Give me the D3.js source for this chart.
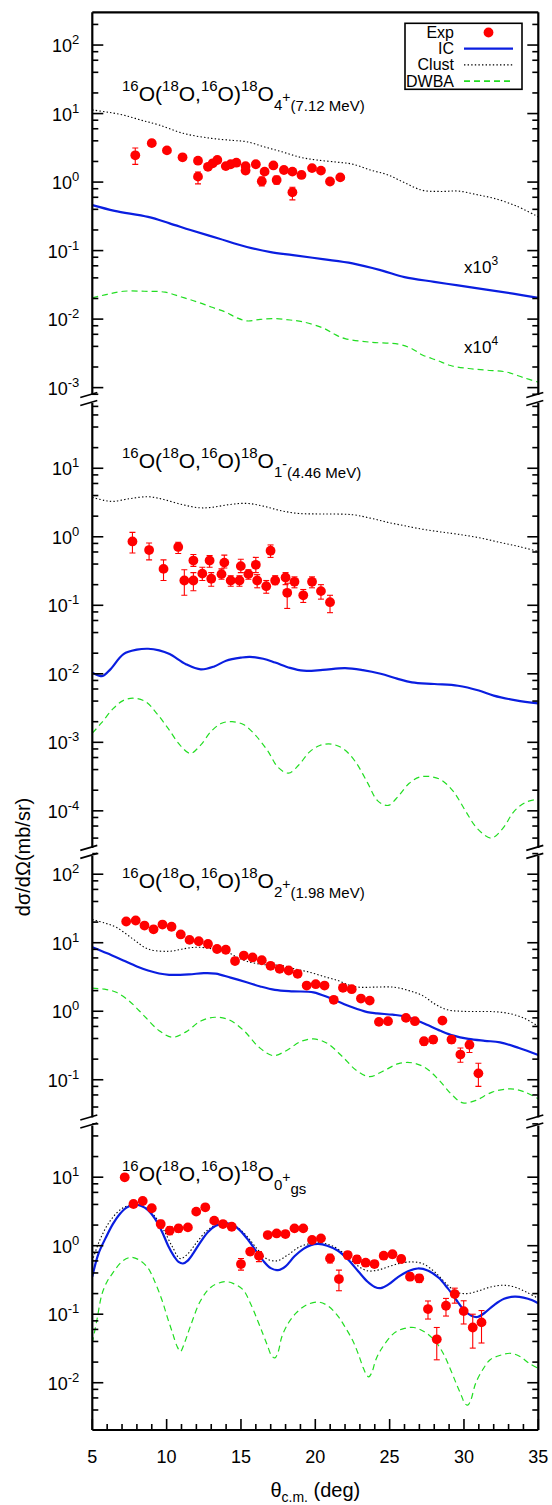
<!DOCTYPE html>
<html>
<head>
<meta charset="utf-8">
<script src="https://cdn.jsdelivr.net/npm/d3@7"></script>
<style>
  body { margin: 0; background: #fff; }
  svg text { font-family: "Liberation Sans", Arial, Helvetica, sans-serif; fill: #000; }
</style>
</head>
<body>
<div id="chart"></div>
<script>
// ---------- data (theta in deg, cross sections in mb/sr, already scaled as plotted) ----------

// 18O 4+ (7.12 MeV): [theta, value, errLow, errHigh]
const exp4 = [
  [7.89, 2.46, 1.81, 3.14], [9.0, 3.7, 3.3, 4.1], [10.02, 2.9, 2.65, 3.15], [11.07, 2.3, 2.1, 2.5],
  [12.11, 2.05, 1.87, 2.25], [12.11, 1.2, 0.94, 1.4], [12.78, 1.67, 1.52, 1.83], [13.1, 1.88, 1.72, 2.05],
  [13.41, 2.1, 1.92, 2.3], [13.98, 1.71, 1.56, 1.87], [14.31, 1.82, 1.66, 1.99], [14.69, 1.92, 1.75, 2.1],
  [15.31, 1.71, 1.56, 1.87], [15.31, 1.47, 1.33, 1.62], [16.0, 1.82, 1.66, 1.99], [16.4, 1.03, 0.88, 1.18],
  [16.59, 1.42, 1.29, 1.56], [17.18, 1.75, 1.6, 1.92], [17.4, 1.07, 0.93, 1.22], [17.89, 1.5, 1.37, 1.64],
  [18.46, 1.42, 1.29, 1.56], [18.46, 0.71, 0.55, 0.84], [19.07, 1.27, 1.16, 1.39], [19.78, 1.6, 1.46, 1.75],
  [20.38, 1.47, 1.34, 1.61], [20.99, 1.02, 0.93, 1.12], [21.68, 1.17, 1.07, 1.28]
];
const ic4 = [[5, 0.46], [6.5, 0.38], [8.75, 0.31], [10.2, 0.25], [11.6, 0.2], [13.5, 0.15], [15.4, 0.113],
  [17, 0.095], [18.5, 0.086], [20.5, 0.075], [22.5, 0.065], [24.5, 0.051], [26, 0.041], [28, 0.035],
  [29.6, 0.031], [31.5, 0.027], [33.3, 0.0235], [35, 0.0204]];
const clust4 = [[5, 11.3], [6, 10.5], [7.1, 9.5], [8.3, 8], [9.5, 6.8], [11.1, 5.15], [13, 4.35], [14.5, 4.05],
  [15.4, 3.88], [16.5, 3.3], [17.75, 2.77], [19, 2.3], [20.1, 2.1], [21.5, 1.95], [22.5, 1.83], [23.7, 1.5],
  [24.9, 1.27], [26, 0.98], [27.2, 0.76], [28.5, 0.73], [29.6, 0.74], [30.8, 0.66], [32, 0.58], [33.5, 0.45], [35, 0.31]];
const dwba4 = [[5, 0.0204], [6, 0.023], [7.1, 0.0255], [8.5, 0.0255], [9.9, 0.0247], [11, 0.021], [12.06, 0.0178],
  [13, 0.015], [13.96, 0.0127], [14.7, 0.0105], [15.4, 0.0094], [16.3, 0.0099], [17.3, 0.0102], [18.3, 0.0097],
  [19.2, 0.0091], [20.6, 0.0073], [21.3, 0.006], [22, 0.0052], [23.7, 0.0046], [25.6, 0.0043], [26.5, 0.0037],
  [27.2, 0.003], [28.2, 0.0025], [29.1, 0.0021], [30.3, 0.0019], [31.5, 0.0018], [32.8, 0.0017], [34, 0.0014], [35, 0.0012]];

// 18O 1- (4.46 MeV)
const exp1 = [
  [7.70, 0.855, 0.58, 1.16], [8.82, 0.64, 0.46, 0.81], [9.79, 0.34, 0.23, 0.46], [10.78, 0.71, 0.57, 0.83],
  [11.19, 0.23, 0.14, 0.33], [11.8, 0.45, 0.37, 0.55], [11.8, 0.23, 0.163, 0.30], [12.4, 0.29, 0.23, 0.36],
  [12.89, 0.45, 0.36, 0.53], [13.0, 0.244, 0.19, 0.30], [13.69, 0.285, 0.24, 0.34], [13.88, 0.42, 0.35, 0.54],
  [14.31, 0.23, 0.19, 0.27], [14.9, 0.23, 0.19, 0.27], [14.99, 0.373, 0.30, 0.47], [15.5, 0.285, 0.24, 0.33],
  [16.0, 0.39, 0.30, 0.50], [16.09, 0.23, 0.18, 0.28], [16.7, 0.19, 0.15, 0.23], [16.99, 0.625, 0.50, 0.76],
  [17.3, 0.23, 0.20, 0.27], [18.0, 0.255, 0.20, 0.30], [18.11, 0.152, 0.09, 0.21], [18.6, 0.22, 0.18, 0.26],
  [19.19, 0.14, 0.11, 0.17], [19.78, 0.22, 0.18, 0.26], [20.38, 0.161, 0.123, 0.2], [20.99, 0.111, 0.078, 0.14]
];
const ic1 = [[5, 0.0104], [5.4, 0.0095], [5.7, 0.0093], [6.2, 0.0115], [7.1, 0.0194], [8, 0.0225], [8.75, 0.0232],
  [9.5, 0.022], [10.2, 0.0194], [11.3, 0.0138], [12.3, 0.0116], [13.2, 0.0128], [14.0, 0.0155], [15.0, 0.0172],
  [15.6, 0.0177], [16.5, 0.0166], [17.3, 0.0146], [18.3, 0.0122], [19.2, 0.0111], [20.5, 0.0114], [22, 0.0121],
  [23.2, 0.0113], [24.4, 0.0100], [25.5, 0.0085], [26.5, 0.0075], [28, 0.0071], [29.6, 0.0067], [31, 0.0057],
  [32, 0.0048], [33.5, 0.0041], [35, 0.0037]];
const clust1 = [[5, 3.75], [5.8, 3.4], [6.4, 3.28], [7.5, 3.6], [8.75, 3.84], [9.8, 3.5], [11.1, 2.93], [12.2, 2.65],
  [13.0, 2.68], [14.2, 2.95], [15.4, 3.07], [16.5, 2.8], [17.7, 2.4], [18.9, 2.19], [20.5, 2.15], [22.5, 2.1],
  [23.8, 1.85], [24.9, 1.62], [26, 1.45], [27.2, 1.29], [28.4, 1.18], [29.6, 1.09], [31, 0.97], [32.4, 0.83],
  [33.7, 0.72], [35, 0.61]];
const dwba1 = [[5, 0.00136], [5.6, 0.0019], [6.4, 0.0031], [7.1, 0.0041], [7.8, 0.0044], [8.6, 0.0039], [9.3, 0.0027],
  [10.1, 0.0016], [10.9, 0.00091], [11.6, 0.00069], [12.3, 0.00092], [13.0, 0.00145], [13.7, 0.0019], [14.4, 0.0020],
  [15.2, 0.0018], [16.0, 0.00125], [16.8, 0.00075], [17.5, 0.00043], [18.2, 0.000355], [18.9, 0.00047],
  [19.6, 0.00072], [20.3, 0.00090], [21.1, 0.00094], [21.9, 0.00080], [22.7, 0.00052], [23.5, 0.00026],
  [24.2, 0.00014], [24.9, 0.00012], [25.6, 0.000165], [26.3, 0.00025], [27.0, 0.00031], [27.74, 0.000316],
  [28.5, 0.00028], [29.3, 0.00019], [30.1, 0.0001], [30.9, 0.000055], [31.84, 0.00004], [32.6, 0.000055],
  [33.4, 0.0001], [34.2, 0.000135], [35, 0.000148]];

// 18O 2+ (1.98 MeV)
const exp2 = [
  [7.28, 20.4, 19.2, 21.6], [7.92, 21.1, 19.9, 22.3], [8.51, 17.8, 16.8, 18.8], [9.12, 15.7, 14.8, 16.6],
  [9.72, 18.4, 17.3, 19.5], [10.33, 17.1, 16.1, 18.1], [10.95, 13.2, 12.4, 14.0], [11.54, 11.0, 10.3, 11.7],
  [12.16, 10.5, 9.9, 11.1], [12.78, 9.6, 9.0, 10.2], [13.39, 8.1, 7.6, 8.6], [13.98, 7.9, 7.4, 8.4],
  [14.6, 5.4, 5.0, 5.8], [15.19, 6.5, 6.1, 6.9], [15.78, 6.1, 5.7, 6.5], [16.4, 5.55, 5.2, 5.9],
  [16.99, 4.6, 4.3, 4.9], [17.6, 4.16, 3.9, 4.4], [18.21, 3.93, 3.7, 4.16], [18.81, 3.52, 3.3, 3.74],
  [19.42, 2.37, 2.2, 2.54], [20.03, 2.48, 2.32, 2.64], [20.62, 2.37, 2.2, 2.54], [21.24, 1.47, 1.36, 1.58],
  [21.86, 2.2, 2.05, 2.35], [22.45, 2.1, 1.96, 2.24], [23.07, 1.53, 1.42, 1.64], [23.66, 1.43, 1.33, 1.53],
  [24.28, 0.70, 0.63, 0.77], [24.89, 0.715, 0.65, 0.78], [26.1, 0.80, 0.73, 0.87], [26.7, 0.715, 0.65, 0.78],
  [27.31, 0.365, 0.32, 0.41], [27.93, 0.386, 0.34, 0.43], [28.55, 0.73, 0.67, 0.79], [29.16, 0.386, 0.34, 0.43],
  [29.76, 0.233, 0.18, 0.29], [30.37, 0.323, 0.25, 0.37], [30.97, 0.124, 0.08, 0.174]
];
const ic2 = [[5, 8.6], [6, 7.0], [7.09, 5.5], [8, 4.5], [8.75, 3.93], [9.5, 3.55], [10.17, 3.4], [11.5, 3.45],
  [12.5, 3.6], [13.3, 3.55], [14.3, 3.1], [15.38, 2.65], [16.3, 2.3], [17.28, 2.05], [18.5, 1.95], [19.88, 1.89],
  [21, 1.55], [22.49, 1.14], [23.5, 0.97], [24.15, 0.93], [25.2, 0.89], [26.04, 0.84], [27.2, 0.68], [28.41, 0.52],
  [29.3, 0.44], [30.3, 0.395], [31.4, 0.37], [32.43, 0.352], [33.7, 0.29], [35, 0.23]];
const clust2 = [[5, 21.8], [5.8, 19.5], [6.61, 16.8], [7.7, 11.5], [8.75, 8.1], [10.17, 7.5], [11.2, 8.2], [12.06, 8.6],
  [13, 8.2], [13.96, 7.5], [14.7, 6.2], [15.38, 5.37], [16.5, 4.8], [17.75, 4.65], [18.7, 4.1], [19.64, 3.7],
  [20.6, 3.2], [21.53, 2.8], [22.3, 2.4], [22.96, 2.24], [24, 2.25], [25.32, 2.24], [26.3, 2.0], [27.22, 1.69],
  [28.1, 1.25], [28.88, 1.05], [29.8, 1.0], [30.77, 0.99], [31.8, 0.99], [32.9, 0.94], [34, 0.8], [35, 0.6]];
const dwba2 = [[5, 2.17], [5.8, 2.1], [6.61, 1.89], [7.5, 1.4], [8.5, 0.85], [9.5, 0.52], [10.4, 0.417], [11.3, 0.5],
  [12.3, 0.72], [13.25, 0.817], [14.2, 0.75], [15.2, 0.52], [16.2, 0.3], [17.16, 0.225], [18.1, 0.27], [19.0, 0.36],
  [19.88, 0.395], [20.8, 0.34], [21.8, 0.22], [22.8, 0.135], [23.66, 0.111], [24.6, 0.135], [25.6, 0.172],
  [26.5, 0.177], [27.4, 0.15], [28.3, 0.1], [29.2, 0.06], [29.93, 0.046], [30.8, 0.05], [31.9, 0.066],
  [33.13, 0.0736], [34.1, 0.066], [35, 0.0526]];

// 18O 0+ gs
const exp0 = [
  [7.18, 9.96, 9.3, 10.6], [7.77, 4.06, 3.7, 4.45], [8.39, 4.49, 4.1, 4.9], [9.0, 3.52, 3.2, 3.9],
  [9.6, 2.07, 1.8, 2.35], [10.21, 1.66, 1.45, 1.9], [10.8, 1.79, 1.58, 2.0], [11.43, 1.85, 1.68, 2.04],
  [11.99, 3.14, 2.9, 3.4], [12.6, 3.63, 3.35, 3.93], [13.2, 2.32, 2.12, 2.52], [13.79, 2.07, 1.9, 2.25],
  [14.38, 1.89, 1.73, 2.06], [15.0, 0.54, 0.44, 0.65], [15.62, 0.82, 0.73, 0.91], [16.21, 0.71, 0.585, 0.82],
  [16.8, 1.43, 1.31, 1.56], [17.4, 1.51, 1.38, 1.65], [17.99, 1.48, 1.35, 1.62], [18.6, 1.79, 1.64, 1.95],
  [19.19, 1.79, 1.64, 1.95], [19.78, 1.21, 1.1, 1.33], [20.38, 1.28, 1.16, 1.4], [20.99, 0.65, 0.56, 0.75],
  [21.59, 0.326, 0.22, 0.44], [22.18, 0.73, 0.64, 0.82], [22.8, 0.63, 0.55, 0.72], [23.39, 0.565, 0.5, 0.63],
  [23.98, 0.54, 0.48, 0.6], [24.6, 0.715, 0.64, 0.79], [25.19, 0.75, 0.67, 0.83], [25.78, 0.64, 0.57, 0.71],
  [26.37, 0.353, 0.31, 0.4], [26.99, 0.334, 0.29, 0.38], [27.58, 0.119, 0.085, 0.156], [28.17, 0.043, 0.0216, 0.064],
  [28.79, 0.133, 0.094, 0.17], [29.38, 0.197, 0.145, 0.24], [29.98, 0.111, 0.072, 0.157], [30.59, 0.064, 0.032, 0.1],
  [31.18, 0.076, 0.038, 0.113]
];
const ic0 = [[5, 0.353], [5.4, 0.75], [5.9, 1.3], [6.4, 2.1], [6.85, 2.9], [7.3, 3.6], [7.8, 3.95], [8.3, 3.8],
  [8.75, 3.3], [9.2, 2.5], [9.69, 1.6], [10.1, 1.0], [10.5, 0.7], [10.8, 0.58], [11.1, 0.55], [11.4, 0.6],
  [11.8, 0.78], [12.3, 1.15], [12.8, 1.6], [13.3, 1.95], [13.9, 2.12], [14.4, 2.05], [14.9, 1.7], [15.5, 1.2],
  [16.0, 0.85], [16.5, 0.6], [17.0, 0.47], [17.5, 0.44], [18.0, 0.5], [18.6, 0.7], [19.2, 0.9], [19.7, 1.02],
  [20.2, 1.06], [20.8, 1.0], [21.5, 0.85], [22.2, 0.63], [22.9, 0.42], [23.5, 0.3], [24.0, 0.25], [24.4, 0.24],
  [24.9, 0.27], [25.5, 0.34], [26.2, 0.42], [26.9, 0.465], [27.6, 0.43], [28.3, 0.34], [28.9, 0.24], [29.5, 0.16],
  [30.0, 0.115], [30.5, 0.095], [30.9, 0.091], [31.4, 0.105], [32.0, 0.135], [32.7, 0.168], [33.4, 0.18],
  [34.0, 0.175], [34.6, 0.16], [35, 0.144]];
const clust0 = [[5, 0.6], [5.5, 1.2], [6.2, 2.3], [7.0, 3.5], [7.8, 4.0], [8.5, 3.7], [9.2, 2.7], [9.8, 1.7],
  [10.4, 0.95], [10.9, 0.65], [11.4, 0.75], [12.0, 1.1], [12.7, 1.65], [13.4, 2.05], [14.0, 2.15], [14.6, 1.95],
  [15.3, 1.45], [16.0, 0.95], [16.7, 0.65], [17.4, 0.6], [18.1, 0.72], [18.9, 0.95], [19.7, 1.08], [20.4, 1.1],
  [21.2, 0.98], [22.0, 0.75], [22.8, 0.52], [23.5, 0.43], [24.2, 0.44], [25.0, 0.5], [25.8, 0.56], [26.5, 0.58],
  [27.2, 0.55], [28.0, 0.42], [28.8, 0.28], [29.5, 0.21], [30.2, 0.2], [31.0, 0.22], [31.8, 0.25], [32.6, 0.265],
  [33.4, 0.25], [34.2, 0.21], [35, 0.17]];
const dwba0 = [[5, 0.038], [5.3, 0.08], [5.66, 0.2], [6.0, 0.3], [6.38, 0.4], [6.97, 0.58], [7.56, 0.676],
  [8.15, 0.62], [8.75, 0.47], [9.2, 0.3], [9.69, 0.16], [10.05, 0.09], [10.4, 0.053], [10.7, 0.034], [10.93, 0.0286],
  [11.2, 0.038], [11.59, 0.066], [12.3, 0.16], [13.0, 0.25], [13.89, 0.298], [14.5, 0.28], [15.15, 0.226],
  [15.6, 0.15], [16.1, 0.083], [16.5, 0.05], [16.8, 0.034], [17.05, 0.025], [17.28, 0.023], [17.5, 0.028],
  [17.75, 0.047], [18.2, 0.075], [18.7, 0.1035], [19.42, 0.137], [20.24, 0.15], [20.9, 0.13], [21.55, 0.092],
  [22.0, 0.065], [22.5, 0.042], [22.9, 0.026], [23.2, 0.017], [23.45, 0.013], [23.6, 0.0122], [23.8, 0.014],
  [24.05, 0.021], [24.4, 0.03], [25.3, 0.053], [26.0, 0.062], [26.64, 0.064], [27.3, 0.056], [28.0, 0.042],
  [28.6, 0.027], [29.1, 0.0155], [29.5, 0.0095], [29.85, 0.0063], [30.05, 0.005], [30.25, 0.0047], [30.45, 0.0055],
  [30.8, 0.01], [31.3, 0.016], [31.76, 0.0216], [32.4, 0.025], [33.14, 0.0269], [33.8, 0.024], [34.36, 0.0193],
  [35, 0.0162]];

// panel order top -> bottom
const panelExp = [exp4, exp1, exp2, exp0];
const panelIC = [ic4, ic1, ic2, ic0];
const panelClust = [clust4, clust1, clust2, clust0];
const panelDWBA = [dwba4, dwba1, dwba2, dwba0];
const panelLogDomain = [[-3.165, 2.478], [-4.599, 2.012], [-1.609, 2.326], [-2.69, 1.813]];
const panelDecades = [[-3, 2], [-4, 1], [-1, 2], [-2, 1]];
const stateSub = ["4", "1", "2", "0"];
const stateSign = ["+", "-", "+", "+"];
const stateTail = ["(7.12 MeV)", "(4.46 MeV)", "(1.98 MeV)", "gs"];
const titleLogY = [1.19, 1.0, 1.80, 0.95];
const xTicks = [5, 10, 15, 20, 25, 30, 35];
const legendNames = ["Exp", "IC", "Clust", "DWBA"];

// ---------- layout ----------
const width = 552, height = 1505;
const plot = {left: 92.3, right: 538.3, top: 12.3, bottom: 1430};
const colors = {exp: "#ff0000", ic: "#0a1ee0", clust: "#000000", dwba: "#22dd22"};

const svg = d3.select("#chart").append("svg")
  .attr("width", width).attr("height", height);

const x = d3.scaleLinear().domain([5, 35]).range([plot.left, plot.right]);

// split the vertical space so every decade has the same height
const totalDec = d3.sum(panelLogDomain, d => d[1] - d[0]);
const pxPerDec = (plot.bottom - plot.top) / totalDec;
let cursor = plot.top;
const panels = panelLogDomain.map((dom, i) => {
  const h = (dom[1] - dom[0]) * pxPerDec;
  const p = {i, y0: cursor, y1: cursor + h};
  p.y = d3.scaleLog().domain([Math.pow(10, dom[0]), Math.pow(10, dom[1])]).range([p.y1, p.y0]);
  cursor += h;
  return p;
});

const line = yScale => d3.line()
  .x(d => x(d[0]))
  .y(d => yScale(d[1]))
  .curve(d3.curveCatmullRom.alpha(0.5));

function richText(sel, parts) {
  // parts: [text, fontSize, baselineShift]
  let cur = 0;
  parts.forEach(([t, size, shift]) => {
    sel.append("tspan").attr("font-size", size).attr("dy", shift - cur).text(t);
    cur = shift;
  });
}

const defs = svg.append("defs");

panels.forEach(p => {
  const i = p.i;
  const g = svg.append("g").attr("class", "panel");

  defs.append("clipPath").attr("id", "clip" + i)
    .append("rect")
    .attr("x", plot.left).attr("y", p.y0)
    .attr("width", plot.right - plot.left).attr("height", p.y1 - p.y0);

  const curves = g.append("g").attr("clip-path", `url(#clip${i})`);

  curves.append("path").datum(panelDWBA[i])
    .attr("d", line(p.y)).attr("fill", "none")
    .attr("stroke", colors.dwba).attr("stroke-width", 1.2)
    .attr("stroke-dasharray", "6,4");

  curves.append("path").datum(panelClust[i])
    .attr("d", line(p.y)).attr("fill", "none")
    .attr("stroke", colors.clust).attr("stroke-width", 1.1)
    .attr("stroke-dasharray", "1.4,2.2");

  curves.append("path").datum(panelIC[i])
    .attr("d", line(p.y)).attr("fill", "none")
    .attr("stroke", colors.ic).attr("stroke-width", 2.2);

  // error bars + points
  const pts = curves.selectAll(".pt").data(panelExp[i]).enter().append("g").attr("class", "pt");
  pts.append("line")
    .attr("x1", d => x(d[0])).attr("x2", d => x(d[0]))
    .attr("y1", d => p.y(d[2])).attr("y2", d => p.y(d[3]))
    .attr("stroke", colors.exp).attr("stroke-width", 1.1);
  pts.append("line")
    .attr("x1", d => x(d[0]) - 3).attr("x2", d => x(d[0]) + 3)
    .attr("y1", d => p.y(d[2])).attr("y2", d => p.y(d[2]))
    .attr("stroke", colors.exp).attr("stroke-width", 1.1);
  pts.append("line")
    .attr("x1", d => x(d[0]) - 3).attr("x2", d => x(d[0]) + 3)
    .attr("y1", d => p.y(d[3])).attr("y2", d => p.y(d[3]))
    .attr("stroke", colors.exp).attr("stroke-width", 1.1);
  pts.append("circle")
    .attr("cx", d => x(d[0])).attr("cy", d => p.y(d[1]))
    .attr("r", 4.9).attr("fill", colors.exp);

  // y ticks, both sides, inward
  const [dLo, dHi] = panelDecades[i];
  const majors = d3.range(dLo, dHi + 1);
  const minors = [];
  d3.range(dLo - 1, dHi + 1).forEach(e => [2, 4, 6, 8].forEach(m => {
    const v = m * Math.pow(10, e);
    const l = Math.log10(v);
    if (l > panelLogDomain[i][0] + 0.02 && l < panelLogDomain[i][1] - 0.02) minors.push(v);
  }));
  const ticks = g.append("g").attr("stroke", "#000").attr("stroke-width", 1.6);
  [[plot.left, 1], [plot.right, -1]].forEach(([x0, dir]) => {
    ticks.selectAll(null).data(majors).enter().append("line")
      .attr("x1", x0).attr("x2", x0 + dir * 11)
      .attr("y1", e => p.y(Math.pow(10, e))).attr("y2", e => p.y(Math.pow(10, e)));
    ticks.selectAll(null).data(minors).enter().append("line")
      .attr("x1", x0).attr("x2", x0 + dir * 6)
      .attr("y1", v => p.y(v)).attr("y2", v => p.y(v));
  });

  // tick labels 10^n
  majors.forEach(e => {
    const t = g.append("text")
      .attr("x", plot.left - 13).attr("y", p.y(Math.pow(10, e)) + 7)
      .attr("text-anchor", "end");
    richText(t, [["10", 18, 0], [String(e), 13, -8]]);
  });

  // reaction label
  const tt = g.append("text")
    .attr("x", x(7)).attr("y", p.y(Math.pow(10, titleLogY[i])));
  const parts = [["16", 15, -10], ["O(", 21, 0], ["18", 15, -10], ["O,", 21, 0], ["16", 15, -10],
    ["O)", 21, 0], ["18", 15, -10], ["O", 21, 0], [stateSub[i], 15, 9], [stateSign[i], 14, 1]];
  if (i === 3) parts.push([stateTail[i], 15, 13]);
  else parts.push([stateTail[i], 15, 10]);
  richText(tt, parts);
});

// scale factor notes in the top panel
const p0 = panels[0];
[[3, -1.33], [4, -2.5]].forEach(([pow, ly]) => {
  const t = svg.append("text").attr("x", x(30)).attr("y", p0.y(Math.pow(10, ly)));
  richText(t, [["x10", 17, 0], [String(pow), 12, -8]]);
});

// frame: top and bottom lines, broken side axes
const frame = svg.append("g").attr("stroke", "#000").attr("fill", "none");
frame.append("line").attr("x1", plot.left).attr("x2", plot.right)
  .attr("y1", plot.top).attr("y2", plot.top).attr("stroke-width", 2.2);
frame.append("line").attr("x1", plot.left).attr("x2", plot.right)
  .attr("y1", plot.bottom).attr("y2", plot.bottom).attr("stroke-width", 2.2);
panels.forEach((p, i) => {
  const gapTop = i === 0 ? 0 : 4;
  const gapBot = i === panels.length - 1 ? 0 : 4;
  [plot.left, plot.right].forEach(xx => {
    frame.append("line").attr("x1", xx).attr("x2", xx)
      .attr("y1", p.y0 + gapTop).attr("y2", p.y1 - gapBot).attr("stroke-width", 2.2);
  });
  if (i < panels.length - 1) {
    [plot.left, plot.right].forEach(xx => {
      [-4, 4].forEach(off => {
        frame.append("line")
          .attr("x1", xx - 12).attr("y1", p.y1 + off + 2.5)
          .attr("x2", xx + 5).attr("y2", p.y1 + off - 2.5)
          .attr("stroke-width", 1.6);
      });
    });
  }
});

// x axis ticks (inside, bottom)
const xg = svg.append("g").attr("stroke", "#000").attr("stroke-width", 1.6);
d3.range(5, 36).forEach(v => {
  const major = v % 5 === 0;
  xg.append("line").attr("x1", x(v)).attr("x2", x(v))
    .attr("y1", plot.bottom).attr("y2", plot.bottom - (major ? 11 : 6));
});
svg.selectAll(".xlab").data(xTicks).enter().append("text")
  .attr("class", "xlab")
  .attr("x", d => x(d)).attr("y", plot.bottom + 33)
  .attr("text-anchor", "middle").attr("font-size", 18)
  .text(d => d);

// axis titles
const xt = svg.append("text").attr("x", x(20)).attr("y", 1497).attr("text-anchor", "middle");
richText(xt, [["θ", 20, 0], ["c.m.", 14, 5], [" (deg)", 20, 0]]);

svg.append("text")
  .attr("transform", `translate(30,857) rotate(-90)`)
  .attr("text-anchor", "middle").attr("font-size", 20)
  .text("dσ/dΩ(mb/sr)");

// legend
const lg = svg.append("g");
lg.append("rect").attr("x", 405).attr("y", 23.3).attr("width", 117).attr("height", 66)
  .attr("fill", "#fff").attr("stroke", "#000").attr("stroke-width", 1.6);
legendNames.forEach((name, k) => {
  const yy = 32.5 + k * 16.2;
  lg.append("text").attr("x", 454).attr("y", yy + 5.5).attr("text-anchor", "end")
    .attr("font-size", 16).text(name);
  if (k === 0) {
    lg.append("circle").attr("cx", 488.5).attr("cy", yy).attr("r", 4.9).attr("fill", colors.exp);
  } else {
    const st = [null,
      {c: colors.ic, w: 2.2, d: null},
      {c: colors.clust, w: 1.1, d: "1.4,2.2"},
      {c: colors.dwba, w: 1.6, d: "6,4"}][k];
    lg.append("line").attr("x1", 464).attr("x2", 513).attr("y1", yy).attr("y2", yy)
      .attr("stroke", st.c).attr("stroke-width", st.w).attr("stroke-dasharray", st.d);
  }
});
</script>
</body>
</html>
